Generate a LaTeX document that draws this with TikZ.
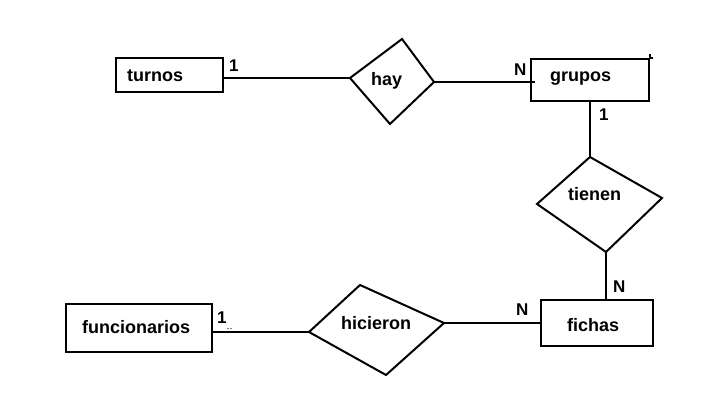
\documentclass[tikz,border=0pt]{standalone}
\usepackage{fontspec}
\setmainfont{Liberation Sans}
\begin{document}
\begin{tikzpicture}[x=1pt,y=-1pt,
  ln/.style={line width=2pt},
  ent/.style={draw,line width=2pt,inner sep=0pt},
  lab/.style={inner sep=0pt,anchor=base west,font=\bfseries\fontsize{18}{18}\selectfont},
  card/.style={inner sep=0pt,anchor=base west,font=\bfseries\fontsize{17}{17}\selectfont}]
\useasboundingbox (0,0) rectangle (727,406);
% entities
\node[ent,minimum width=107pt,minimum height=34pt] (turnos) at (169.5,75) {};
\node[ent,minimum width=118pt,minimum height=42pt] (grupos) at (590,80) {};
\node[ent,minimum width=112pt,minimum height=46pt] (fichas) at (597,323) {};
\node[ent,minimum width=146pt,minimum height=48pt] (funcionarios) at (139,328) {};
\draw[ln] (grupos.north east) -- ++(0,-4);
\draw[ln] (grupos.north east) -- ++(3,0);
% entity texts
\node[lab] (tturnos) at (127,82) {turnos};
\node[lab] (tgrupos) at (550,82) {grupos};
\node[lab] (tfichas) at (567,331) {fichas};
\node[lab] (tfunc) at (82,333) {funcionarios};
% relationship diamonds
\coordinate (hayL) at (350,78); \coordinate (hayT) at (402,39);
\coordinate (hayR) at (434,82); \coordinate (hayB) at (390,124);
\draw[ln,line join=miter] (hayL) -- (hayT) -- (hayR) -- (hayB) -- cycle;
\node[lab] (thay) at (371,86) {hay};
\coordinate (tieT) at (590,157); \coordinate (tieL) at (537,204);
\coordinate (tieR) at (662,198); \coordinate (tieB) at (606,252);
\draw[ln] (tieT) -- (tieR) -- (tieB) -- (tieL) -- cycle;
\node[lab] (ttienen) at (568,200) {tienen};
\coordinate (hicL) at (309,332); \coordinate (hicT) at (360,285);
\coordinate (hicR) at (444,323); \coordinate (hicB) at (386,375);
\draw[ln] (hicL) -- (hicT) -- (hicR) -- (hicB) -- cycle;
\node[lab] (thic) at (341,329) {hicieron};
% connectors
\coordinate (tuE) at (turnos.east |- hayL);
\draw[ln] (tuE) -- (hayL);
\coordinate (grW) at (535,82);
\draw[ln] (hayR) -- (grW);
\coordinate (grS) at (tieT |- grupos.south);
\draw[ln] (grS) -- (tieT);
\coordinate (fiN) at (tieB |- fichas.north);
\draw[ln] (tieB) -- (fiN);
\coordinate (fiW) at (fichas.west |- hicR);
\draw[ln] (hicR) -- (fiW);
\coordinate (fuE) at (funcionarios.east |- hicL);
\draw[ln] (fuE) -- (hicL);
% cardinalities
\node[card] (c1) at (229,72) {1};
\node[card] (c2) at (514,76) {N};
\node[card] (c3) at (599,121) {1};
\node[card] (c4) at (613,292) {N};
\node[card] (c5) at (516,315) {N};
\node[card] (c6) at (217,323) {1};
\fill (228,328.5) circle (0.6pt) (231,328.5) circle (0.6pt);
\end{tikzpicture}
\end{document}
